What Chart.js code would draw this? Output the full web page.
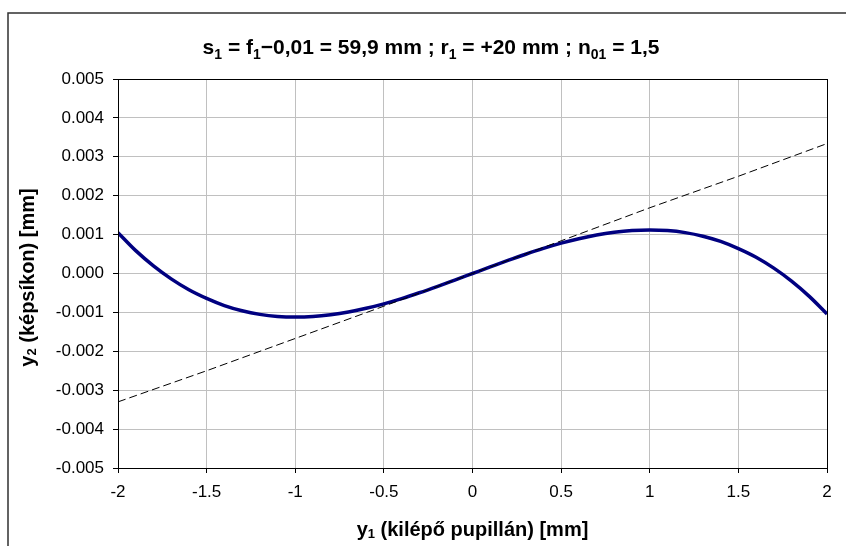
<!DOCTYPE html>
<html><head><meta charset="utf-8">
<script src="https://cdn.jsdelivr.net/npm/chart.js@4/dist/chart.umd.min.js"></script>
<style>html,body{margin:0;padding:0;background:#fff;overflow:hidden}canvas{display:block}</style>
</head><body>
<canvas id="c" width="846" height="546"></canvas>
<script>
// ---- data ----
const xValues = [-2.0,-1.9,-1.8,-1.7,-1.6,-1.5,-1.4,-1.3,-1.2,-1.1,-1.0,-0.9,-0.8,-0.7,-0.6,-0.5,-0.4,-0.3,-0.2,-0.1,0.0,
                 0.1,0.2,0.3,0.4,0.5,0.6,0.7,0.8,0.9,1.0,1.1,1.2,1.3,1.4,1.5,1.6,1.7,1.8,1.9,2.0];
const curveValues = [0.001050,0.000588,0.000197,-0.000137,-0.000417,-0.000640,-0.000825,-0.000959,-0.001051,-0.001104,-0.001120,
                     -0.001105,-0.001060,-0.000990,-0.000895,-0.000780,-0.000645,-0.000495,-0.000335,-0.000168,0.000000,
                     0.000168,0.000335,0.000495,0.000645,0.000780,0.000895,0.000990,0.001060,0.001105,0.001120,
                     0.001104,0.001051,0.000959,0.000825,0.000640,0.000417,0.000137,-0.000197,-0.000588,-0.001040];
const lineX = [-2.0,-1.5,-1.0,-0.5,0.0,0.5,1.0,1.5,2.0];
const lineValues = [-0.00330,-0.00250,-0.00167,-0.00084,0.00000,0.00084,0.00169,0.00250,0.00334];
const xTickStep = 0.5;
const yTickStep = 0.001;
const xRange = [-2, 2];
const yRange = [-0.005, 0.005];
const titleParts = [['s',0],['1',1],[' = f',0],['1',1],['\u22120,01 = 59,9 mm ; r',0],['1',1],[' = +20 mm ; n',0],['01',1],[' = 1,5',0]];
const xTitleParts = [['y',0],['1',1],[' (kilépő pupillán) [mm]',0]];
const yTitleParts = [['y',0],['2',1],[' (képsíkon) [mm]',0]];

const FONT = '"Liberation Sans", Arial, Helvetica, sans-serif';

function richWidth(ctx, parts, size, subScale){
  let w = 0;
  for (const [t, sub] of parts){
    ctx.font = 'bold ' + (sub ? Math.round(size*subScale) : size) + 'px ' + FONT;
    w += ctx.measureText(t).width;
  }
  return w;
}
function drawRich(ctx, parts, size, cx, baseline, subScale, subDrop){
  const w = richWidth(ctx, parts, size, subScale);
  let x = cx - w/2;
  ctx.textAlign = 'left';
  ctx.textBaseline = 'alphabetic';
  ctx.fillStyle = '#000';
  for (const [t, sub] of parts){
    ctx.font = 'bold ' + (sub ? Math.round(size*subScale) : size) + 'px ' + FONT;
    ctx.fillText(t, x, baseline + (sub ? size*subDrop : 0));
    x += ctx.measureText(t).width;
  }
}

const decor = {
  id: 'decor',
  beforeDraw(chart){
    const ctx = chart.ctx;
    ctx.save();
    ctx.fillStyle = '#fff';
    ctx.fillRect(0,0,chart.width,chart.height);
    ctx.strokeStyle = '#303030';
    ctx.lineWidth = 1.5;
    ctx.strokeRect(8, 13, chart.width + 20, chart.height + 20);
    ctx.restore();
  },
  afterDraw(chart){
    const ctx = chart.ctx, a = chart.chartArea;
    ctx.save();
    ctx.strokeStyle = '#000';
    ctx.lineWidth = 1;
    ctx.strokeRect(Math.round(a.left)+0.5, Math.round(a.top)+0.5, Math.round(a.right-a.left)-1+1, Math.round(a.bottom-a.top));
    drawRich(ctx, titleParts, 21, 431, 54, 0.65, 0.25);
    drawRich(ctx, xTitleParts, 20, (a.left+a.right)/2, 536, 0.65, 0.12);
    ctx.translate(34, (a.top+a.bottom)/2 + 4);
    ctx.rotate(-Math.PI/2);
    drawRich(ctx, yTitleParts, 20, 0, 0, 0.65, 0.12);
    ctx.restore();
  }
};

new Chart(document.getElementById('c'), {
  type: 'scatter',
  data: {
    datasets: [
      {
        label: 'linear',
        data: lineX.map((x,i)=>({x, y: lineValues[i]})),
        showLine: true, borderColor: '#000', borderWidth: 1, borderDash: [8,4],
        pointRadius: 0, fill: false, order: 0
      },
      {
        label: 'y2',
        data: xValues.map((x,i)=>({x, y: curveValues[i]})),
        showLine: true, borderColor: '#000080', borderWidth: 3.5, cubicInterpolationMode: 'monotone', tension: 0.3,
        pointRadius: 0, fill: false, order: 1
      }
    ]
  },
  options: {
    responsive: false, animation: false, devicePixelRatio: 1,
    layout: { padding: { top: 79, right: 19, left: 0, bottom: 0 } },
    plugins: { legend: { display: false }, title: { display: false }, tooltip: { enabled: false } },
    scales: {
      x: {
        type: 'linear', min: xRange[0], max: xRange[1],
        ticks: { stepSize: xTickStep, color: '#000', font: { family: FONT, size: 17 }, padding: 9,
                 callback: v => String(Math.round(v*10)/10) },
        grid: { color: '#c0c0c0', lineWidth: 1, tickColor: '#000', tickLength: 5 },
        border: { color: '#000', width: 1 },
        afterFit(s){ s.height = 78; }
      },
      y: {
        type: 'linear', min: yRange[0], max: yRange[1],
        ticks: { stepSize: yTickStep, color: '#000', font: { family: FONT, size: 17 }, padding: 9,
                 callback: v => (Math.abs(v) < 1e-9 ? 0 : v).toFixed(3) },
        grid: { color: '#c0c0c0', lineWidth: 1, tickColor: '#000', tickLength: 5 },
        border: { color: '#000', width: 1 },
        afterFit(s){ s.width = 118; }
      }
    }
  },
  plugins: [decor]
});
</script>
</body></html>
